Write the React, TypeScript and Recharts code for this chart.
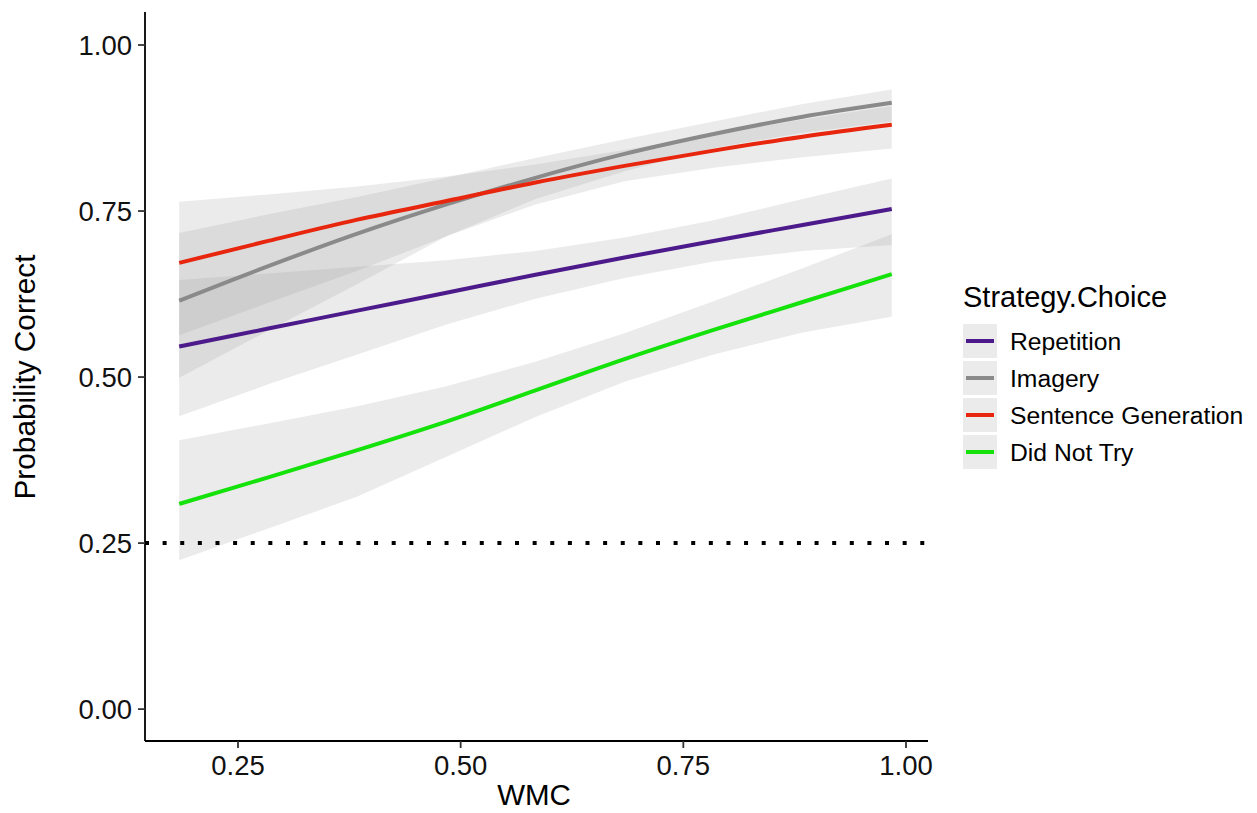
import React from "react";
import {
  ComposedChart,
  Area,
  Line,
  XAxis,
  YAxis,
  ReferenceLine,
  Label,
} from "recharts";

// WMC values where the model predictions were taken
const wmc = [0.184, 0.284, 0.384, 0.484, 0.584, 0.684, 0.784, 0.884, 0.984];

const repetitionFit = [0.546, 0.573, 0.6, 0.627, 0.654, 0.68, 0.705, 0.729, 0.753];
const repetitionLow = [0.441, 0.489, 0.534, 0.579, 0.618, 0.649, 0.674, 0.69, 0.699];
const repetitionHigh = [0.646, 0.656, 0.666, 0.676, 0.69, 0.71, 0.736, 0.768, 0.799];

const imageryFit = [0.615, 0.667, 0.716, 0.76, 0.8, 0.836, 0.866, 0.892, 0.913];
const imageryLow = [0.499, 0.57, 0.64, 0.712, 0.768, 0.81, 0.845, 0.868, 0.885];
const imageryHigh = [0.717, 0.745, 0.771, 0.8, 0.83, 0.858, 0.885, 0.911, 0.933];

const sentenceFit = [0.672, 0.705, 0.737, 0.765, 0.793, 0.818, 0.841, 0.862, 0.88];
const sentenceLow = [0.563, 0.612, 0.66, 0.712, 0.76, 0.795, 0.815, 0.831, 0.844];
const sentenceHigh = [0.764, 0.775, 0.787, 0.802, 0.82, 0.842, 0.865, 0.888, 0.908];

const notTryFit = [0.309, 0.349, 0.39, 0.433, 0.48, 0.527, 0.571, 0.613, 0.655];
const notTryLow = [0.224, 0.272, 0.32, 0.38, 0.44, 0.493, 0.534, 0.567, 0.591];
const notTryHigh = [0.405, 0.43, 0.456, 0.486, 0.523, 0.566, 0.614, 0.664, 0.715];

const xTicks = [0.25, 0.5, 0.75, 1.0];
const yTicks = [0, 0.25, 0.5, 0.75, 1.0];
const chanceLevel = 0.25;

const series = [
  { key: "rep", name: "Repetition", color: "#4C1A8A" },
  { key: "img", name: "Imagery", color: "#8A8A8A" },
  { key: "sen", name: "Sentence Generation", color: "#E8260E" },
  { key: "dnt", name: "Did Not Try", color: "#14E20A" },
];

const data = wmc.map((x, i) => ({
  x,
  rep: repetitionFit[i],
  repBand: [repetitionLow[i], repetitionHigh[i]],
  img: imageryFit[i],
  imgBand: [imageryLow[i], imageryHigh[i]],
  sen: sentenceFit[i],
  senBand: [sentenceLow[i], sentenceHigh[i]],
  dnt: notTryFit[i],
  dntBand: [notTryLow[i], notTryHigh[i]],
}));

const font = "'Liberation Sans', Arial, Helvetica, sans-serif";

const App = () => {
  return (
    <div style={{ position: "relative", width: 1241, height: 797, fontFamily: font }}>
      <ComposedChart
        width={940}
        height={797}
        data={data}
        margin={{ top: 4, right: 20, left: 0, bottom: 0 }}
      >
        <XAxis
          type="number"
          dataKey="x"
          domain={[0.1456, 1.0247]}
          ticks={xTicks}
          allowDataOverflow
          tickFormatter={(v) => v.toFixed(2)}
          height={64}
          tickSize={7}
          tickMargin={7}
          axisLine={{ stroke: "#000", strokeWidth: 1.8 }}
          tickLine={{ stroke: "#333", strokeWidth: 1.8 }}
          tick={{ fill: "#111", fontSize: 27.5, fontFamily: font }}
        />
        <YAxis
          type="number"
          domain={[-0.048, 1.0497]}
          ticks={yTicks}
          allowDataOverflow
          tickFormatter={(v) => v.toFixed(2)}
          width={137}
          tickSize={7}
          tickMargin={6}
          axisLine={{ stroke: "#000", strokeWidth: 1.8 }}
          tickLine={{ stroke: "#333", strokeWidth: 1.8 }}
          tick={{ fill: "#111", fontSize: 27.5, fontFamily: font }}
        >
          <Label
            content={() => (
              <text
                x={27}
                y={369}
                transform="rotate(-90 27 369)"
                textAnchor="middle"
                fontSize={29.8}
                fontFamily={font}
                fill="#000"
              >
                Probability Correct
              </text>
            )}
          />
        </YAxis>
        {series.map((s) => (
          <Area
            key={s.key + "Band"}
            type="linear"
            dataKey={s.key + "Band"}
            stroke="none"
            fill="#999999"
            fillOpacity={0.2}
            isAnimationActive={false}
            activeDot={false}
            dot={false}
          />
        ))}
        <ReferenceLine
          y={chanceLevel}
          stroke="#000"
          strokeWidth={4}
          strokeDasharray="4 13.62"
        />
        {series.map((s) => (
          <Line
            key={s.key}
            type="monotone"
            dataKey={s.key}
            stroke={s.color}
            strokeWidth={4}
            dot={false}
            activeDot={false}
            isAnimationActive={false}
          />
        ))}
      </ComposedChart>
      <svg
        width={1241}
        height={797}
        style={{
          position: "absolute",
          left: 0,
          top: 0,
          pointerEvents: "none",
          overflow: "visible",
        }}
      >
        <text
          x={526}
          y={797}
          textAnchor="middle"
          fontSize={29.5}
          fontFamily={font}
          fill="#000"
        >
          WMC
        </text>
        <text x={955} y={299} fontSize={29} fontFamily={font} fill="#000">
          Strategy.Choice
        </text>
        {series.map((s, i) => {
          const top = 316 + i * 37;
          return (
            <g key={s.key}>
              <rect x={955} y={top} width={34} height={34} fill="#ebebeb" />
              <line
                x1={958}
                x2={986}
                y1={top + 17}
                y2={top + 17}
                stroke={s.color}
                strokeWidth={4}
              />
              <text x={1002} y={top + 26} fontSize={24.7} fontFamily={font} fill="#000">
                {s.name}
              </text>
            </g>
          );
        })}
      </svg>
    </div>
  );
};

export default App;
